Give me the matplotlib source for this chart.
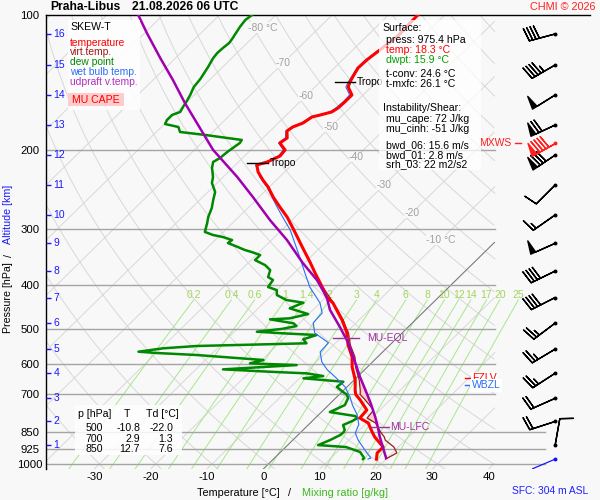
import numpy as np
import matplotlib
matplotlib.use("Agg")
import matplotlib.pyplot as plt
from matplotlib.patches import Rectangle
from matplotlib.ticker import NullLocator, FixedLocator

plt.rcParams['font.family'] = ['Liberation Sans', 'DejaVu Sans']

# ---------------- data ----------------
temp_p = [100, 104.2, 111.9, 119.7, 125.9, 131.2, 136.7, 141.0, 144.7, 150.7, 156.2, 161.1, 164.4,
          167.0, 168.7, 174.0, 177.6, 181.3, 187.9, 192.8, 199.8, 206.1, 212.5, 215.8, 223.7, 233.1,
          241.6, 254.3, 267.7, 281.8, 298.1, 313.8, 330.4, 354.9, 375.5, 403.5, 424.7, 437.9, 477.9,
          500, 510.8, 543.3, 577.9, 608.1, 650.0, 684.3, 700, 720.2, 758.3, 790.1, 810.5, 850, 871.0,
          916.7, 945.0, 975.4]
temp_T = [-54.8, -54.7, -54.5, -55.2, -55.7, -55.8, -55.2, -54.7, -54.1, -52.0, -52.0, -52.1, -52.5,
          -54.0, -55.1, -55.6, -56.7, -57.0, -55.7, -56.1, -53.9, -53.7, -54.9, -56.2, -54.7, -52.4,
          -50.2, -47.5, -44.5, -41.4, -38.4, -35.7, -33.0, -29.2, -26.3, -22.5, -19.9, -17.7, -13.0,
          -10.8, -9.8, -7.4, -4.5, -2.7, 0.2, 2.0, 2.9, 4.7, 7.7, 7.9, 10.3, 12.7, 14.0,
          17.3, 17.3, 18.3]

virt_p = [403.5, 437.9, 477.9, 500, 510.8, 543.3, 577.9, 608.1, 650, 684.3, 700, 720.2, 758.3, 790.1,
          810.5, 850, 871, 884.6, 916.7, 945, 975.4]
virt_T = [-22.4, -17.6, -12.8, -10.6, -9.5, -7.0, -4.0, -2.1, 0.9, 2.9, 3.7, 5.6, 8.9, 9.2,
          11.6, 14.2, 15.7, 16.4, 19.2, 20.8, 19.9]

dewp_p = [100, 102.6, 106.3, 109.7, 113.1, 115.4, 118.4, 121.5, 124.7, 130.5, 134.6, 138.8, 144.7,
          150.7, 155.5, 160.3, 164.4, 167.0, 171.3, 174.9, 177.6, 182.2, 185.0, 189.8, 192.8, 201.9,
          208.2, 212.5, 219.2, 229.5, 236.7, 247.9, 258.2, 269.1, 281.8, 290.6, 304.2, 309.0, 312.2,
          317.1, 322.0, 328.7, 333.8, 337.3, 342.5, 351.4, 360.6, 369.9, 383.4, 389.3, 403.5, 409.9,
          420.4, 431.3, 437.3, 450.1, 463.5, 473.8, 476.3, 486.1, 492.9, 500, 507.4, 511.7, 516.1,
          527.6, 538.5, 546.0, 552.5, 562.2, 566.0, 571.8, 586.7, 596.8, 602.1, 615.5, 623.1, 628.3,
          636.9, 644.5, 655.8, 673.7, 691.2, 700, 712.9, 739.1, 766.2, 781.9, 790.1, 802.3, 818.9,
          840.2, 850, 861.9, 884.6, 907.6, 916.7, 940.3, 969.7, 975.4]
dewp_T = [-84.2, -84.5, -84.2, -83.8, -83.4, -83.2, -83.4, -83.5, -83.3, -82.6, -82.2, -81.8, -81.5,
          -80.7, -80.2, -79.8, -79.4, -80.3, -80.3, -79.9, -77.0, -75.8, -70.8, -63.4, -63.2, -63.8,
          -64.0, -64.5, -63.6, -61.8, -60.9, -58.7, -57.6, -56.4, -55.4, -54.5, -53.3, -51.3, -49.2,
          -47.0, -47.2, -44.7, -42.9, -41.3, -39.3, -39.3, -36.6, -34.8, -33.9, -32.5, -32.1, -30.0,
          -29.1, -26.5, -23.0, -24.4, -20.1, -22.6, -25.9, -21.0, -20.0, -22.0, -26.0, -21.0, -14.8,
          -16.4, -15.1, -34.1, -39.6, -43.4, -39.9, -32.5, -19.7, -21.5, -12.9, -25.2, -16.4, -9.6,
          -6.2, -9.3, -1.6, -1.8, 0.2, 1.3, 2.2, 2.9, 1.5, 6.7, 7.5, 7.1, 6.2,
          7.4, 7.6, 7.5, 6.6, 5.4, 10.7, 14.1, 15.9, 15.9]

wetb_p = [100, 104.2, 111.9, 119.7, 125.9, 131.2, 136.7, 141.0, 144.7, 150.7, 156.2, 161.1, 164.4,
          167.0, 168.7, 174.0, 177.6, 181.3, 187.9, 192.8, 199.8, 206.1, 212.5, 215.8, 229.5, 241.6,
          254.3, 267.7, 283.3, 301.2, 322.2, 346.1, 375.5, 403.5, 437.9, 461, 485, 510.8, 537, 563,
          592.6, 617, 640, 673, 710, 740, 778, 817, 853, 884.6, 931, 969.7, 975.4]
wetb_T = [-54.6, -54.9, -54.8, -55.4, -55.9, -56.0, -55.4, -55.0, -54.5, -52.4, -52.3, -52.5, -52.8,
          -54.2, -55.3, -55.9, -56.9, -57.2, -56.0, -56.3, -54.2, -54.0, -55.1, -56.4, -53.5, -50.4,
          -47.7, -45.0, -41.9, -38.5, -35.3, -31.9, -28.1, -24.7, -20.0, -17.8, -17.6, -15.5, -11.3, -11.1,
          -9.0, -6.6, -3.9, -0.4, 2.4, 4.3, 6.9, 8.9, 9.8, 11.6, 14.6, 17.1, 16.8]

parcel_p = [100, 109.7, 124.7, 139.5, 157, 178.5, 199.7, 229.5, 254.3, 286.2, 316.9, 356.7, 389.3,
            424.7, 453.5, 495.5, 537, 592.6, 640, 684, 730, 785, 825, 871, 969.7]
parcel_T = [-104.4, -99.6, -92.7, -86.5, -80.2, -73.0, -66.7, -57.5, -51.1, -43.9, -37.3, -30.3, -24.7,
            -19.9, -17.0, -12.1, -7.8, -3.1, 0.5, 3.8, 7.0, 10.4, 12.6, 14.9, 19.8]

pressure_ticks = [100, 200, 300, 400, 500, 600, 700, 850, 925, 1000]
isobars_short = [200, 300, 400, 500, 600, 700]
isobars_long = [850, 925, 1000]
temp_ticks = [-30, -20, -10, 0, 10, 20, 30, 40]
mix_ratios = [0.2, 0.4, 0.6, 1, 1.4, 2, 3, 4, 6, 8, 10, 12, 14, 17, 20, 25]
iso_label_T = [-80, -70, -60, -50, -40, -30, -20, -10]
iso_label_p = [106.7, 127.7, 151.3, 177.3, 207, 239, 276, 317]

km_levels = list(range(1, 17))
km_p = [907, 804, 714, 627.8, 554.7, 485.5, 425.8, 371.8, 322.5, 278.8, 239.1, 205.1, 175.8,
        150.7, 129.2, 110.2]
wind_dir = [10, 252, 246, 237, 239, 233, 243, 244, 246, 235, 225, 236, 245, 238, 240, 255]
wind_spd = [10, 20, 20, 25, 25, 25, 40, 40, 50, 15, 10, 80, 70, 50, 45, 40]
mxws_p, mxws_dir, mxws_spd = 192.8, 241, 90
sfc_p, sfc_dir, sfc_spd = 975.4, 247, 3

tropo_p = [141.0, 214.0]
eql_p = 524.6
lfc_p = 829.0
fzlv_p = 642.0
wbzl_p = 668.0

# ---------------- geometry ----------------
SKEW = 81.3
P_BOT = 1026.0
X_LEFT, X_RIGHT = -38.62, 57.98
X_DIAG = 41.1
X_LOW = 50.0
BG = '#f8f8f8'
W, H = 600, 500


def skew(T, p):
    return np.asarray(T, float) + SKEW * np.log10(P_BOT / np.asarray(p, float))


fig = plt.figure(figsize=(6, 5), dpi=100, facecolor=BG)
ax = fig.add_axes([45.7 / W, 1 - 469 / H, (590 - 45.7) / W, (469 - 15) / H])
ax.set_facecolor(BG)
ax.set_yscale('log')
ax.set_ylim(P_BOT, 100)
ax.set_xlim(X_LEFT, X_RIGHT)
ax.yaxis.set_major_locator(FixedLocator(pressure_ticks))
ax.yaxis.set_minor_locator(NullLocator())
ax.set_yticklabels([str(v) for v in pressure_ticks])
ax.set_xticks(temp_ticks)
ax.set_xticklabels([str(v) for v in temp_ticks])
ax.tick_params(axis='both', length=0, labelsize=8.2)
ax.tick_params(axis='x', pad=2.5)
ax.tick_params(axis='y', pad=11.3)
for lab in ax.get_yticklabels():
    lab.set_horizontalalignment('center')
for s in ['bottom', 'right']:
    ax.spines[s].set_visible(False)
ax.spines['left'].set_linewidth(1.0)
ax.spines['top'].set_linewidth(1.0)

# ---------------- background grid ----------------
pp = np.geomspace(100, P_BOT, 500)


def clipped(X, xmax=X_DIAG):
    X = np.array(X, float)
    X[X > xmax] = np.nan
    return X


for T in range(-130, 41, 10):
    if T == 0:
        ax.plot(clipped(skew(T, pp)), pp, color='#7a7a7a', lw=0.8, zorder=1.3)
    else:
        ax.plot(clipped(skew(T, pp)), pp, color='#d8d8d8', lw=0.7, zorder=1)
for th in np.arange(233.15, 520, 10):
    Tc = th * (pp / 1000.0) ** 0.286 - 273.15
    ax.plot(clipped(skew(Tc, pp)), pp, color='#d8d8d8', lw=0.7, zorder=1)

for p in isobars_short:
    ax.plot([X_LEFT, X_DIAG], [p, p], color='#a4a4a4', lw=1.0, zorder=1.5)
for p in isobars_long:
    ax.plot([X_LEFT, X_LOW], [p, p], color='#a4a4a4', lw=1.0, zorder=1.5)

pm = np.geomspace(431, P_BOT, 120)
for w in mix_ratios:
    e = w * pm / (622.0 + w)
    L = np.log(e / 6.112)
    Td = 243.5 * L / (17.67 - L)
    Xm = skew(Td, pm)
    ax.plot(Xm, pm, color='#a6e88c', lw=0.7, zorder=1.2)
    ax.text(Xm[0], 420, f'{w:g}', color='#a2d45c', fontsize=7.5, ha='center', va='center', zorder=2)

for T, p in zip(iso_label_T, iso_label_p):
    s = f'{T} °C' if T in (-80, -10) else f'{T}'
    ax.text(skew(T, p), p, s, color='#a0a0a0', fontsize=7.5, ha='center', va='center',
            bbox=dict(facecolor=BG, edgecolor='none', pad=0.2), zorder=1.8)

# ---------------- CAPE ----------------
pg = np.geomspace(eql_p, lfc_p, 300)
lp = np.log(pg)
tv = np.interp(lp, np.log(virt_p), virt_T)
tpc = np.interp(lp, np.log(parcel_p), parcel_T)
ax.fill_betweenx(pg, skew(tv, pg), skew(tpc, pg), where=tpc > tv, interpolate=True,
                 color='#ffcccc', lw=0, zorder=4)

# ---------------- profiles ----------------
ax.plot(skew(dewp_T, dewp_p), dewp_p, color='#008800', lw=1.8, zorder=5)
ax.plot(skew(wetb_T, wetb_p), wetb_p, color='#2a6ef5', lw=0.8, zorder=5.2)
ax.plot(skew(virt_T, virt_p), virt_p, color='#a01818', lw=0.9, zorder=5.5)
ax.plot(skew(temp_T, temp_p), temp_p, color='#ff0000', lw=2.2, zorder=6)
ax.plot(skew(parcel_T, parcel_p), parcel_p, color='#a000b0', lw=1.8, zorder=7)

# tropopause marks
for p in tropo_p:
    Tt = np.interp(np.log(p), np.log(temp_p), temp_T)
    Xt = float(skew(Tt, p))
    ax.plot([Xt - 2.7, Xt + 0.9], [p, p], color='k', lw=1.0, zorder=8)
    ax.text(Xt + 1.3, p, 'Tropo', fontsize=7.5, va='center', ha='left', zorder=8)

# level labels
PURP = '#a030a0'
Xe = float(skew(np.interp(np.log(eql_p), np.log(parcel_p), parcel_T), eql_p))
ax.plot([Xe - 2.2, Xe + 2.3], [eql_p, eql_p], color=PURP, lw=1.0, zorder=8)
ax.text(Xe + 3.8, eql_p, 'MU-EQL', color=PURP, fontsize=7.5, va='center', zorder=8)
Xl = float(skew(np.interp(np.log(lfc_p), np.log(parcel_p), parcel_T), lfc_p))
ax.plot([Xl - 1.3, Xl + 1.9], [lfc_p, lfc_p], color=PURP, lw=1.0, zorder=8)
ax.text(Xl + 2.2, lfc_p, 'MU-LFC', color=PURP, fontsize=7.5, va='center', zorder=8)

ax.plot([35.8, 36.9], [fzlv_p, fzlv_p], color='#ff0000', lw=1.0, zorder=8)
ax.text(37.0, fzlv_p, 'FZLV', color='#ff0000', fontsize=7.5, va='center', zorder=8,
        bbox=dict(facecolor='white', edgecolor='none', pad=0.5))
ax.plot([35.8, 36.9], [wbzl_p, wbzl_p], color='#2a6ef5', lw=1.0, zorder=8)
ax.text(37.0, wbzl_p, 'WBZL', color='#2a6ef5', fontsize=7.5, va='center', zorder=8.5,
        bbox=dict(facecolor='white', edgecolor='none', pad=1.2))

ax.text(44.1, mxws_p, 'MXWS', color='#ff2020', fontsize=7.5, va='center', ha='right', zorder=8)
ax.plot([44.6, 45.7], [mxws_p, mxws_p], color='#ff2020', lw=1.0, zorder=8)

# altitude ticks
BLUE = '#1a1aff'
ytr = ax.get_yaxis_transform()
ax.hlines(km_p, 0, 5 / 544.3, transform=ytr, color=BLUE, lw=1.0, zorder=9)
for k, p in zip(km_levels, km_p):
    ax.text(8 / 544.3, p, str(k), transform=ytr, color=BLUE, fontsize=7.5, va='center', ha='left',
            zorder=9)

# wind barbs
BX = 51.8
bsizes = dict(spacing=0.13, height=0.5, width=0.2)
d = np.radians(wind_dir)
spd = np.array(wind_spd, float)
ax.barbs(np.full(len(km_p), BX), km_p, -spd * np.sin(d), -spd * np.cos(d), length=6.2,
         sizes=bsizes, lw=1.0, color='k', zorder=8)
ax.scatter(np.full(len(km_p), BX), km_p, s=8, color='k', zorder=9, lw=0)
dm = np.radians(mxws_dir)
ax.barbs([BX], [mxws_p], [-mxws_spd * np.sin(dm)], [-mxws_spd * np.cos(dm)], length=6.2,
         sizes=bsizes, lw=1.0, color='#ff2020', zorder=8)
ax.scatter([BX], [mxws_p], s=8, color='#ff2020', zorder=9, lw=0)
dsf = np.radians(sfc_dir)
ax.quiver([BX], [sfc_p], [np.sin(dsf)], [np.cos(dsf)], angles='uv', scale_units='dots',
          scale=1 / 25.0, units='dots', width=1.2, headwidth=0, headlength=0,
          headaxislength=0, color='#1010ff', pivot='tail', zorder=8)
ax.scatter([BX], [sfc_p], s=8, color='#1010ff', zorder=9, lw=0)


# ---------------- figure texts ----------------
def ftext(x, y, s, **kw):
    kw.setdefault('va', 'center')
    fig.text(x / W, 1 - y / H, s, **kw)


def fbox(x0, y0, x1, y1, color, alpha=1.0):
    fig.add_artist(Rectangle((x0 / W, 1 - y1 / H), (x1 - x0) / W, (y1 - y0) / H,
                             transform=fig.transFigure, facecolor=color, edgecolor='none',
                             alpha=alpha, zorder=2))


ftext(50.7, 7.5, 'Praha-Libus', fontsize=8.7, weight='bold')
ftext(131.7, 7.5, '21.08.2026 06 UTC', fontsize=8.7, weight='bold')
ftext(530, 7, 'CHMI © 2026', fontsize=7.8, color='#ff2020')

# legend
fbox(68, 20, 140, 110, 'white', 0.85)
ftext(70, 26.7, 'SKEW-T', fontsize=7.6)
for y, s, c in [(42.7, 'temperature', '#ff0000'), (52.3, 'virt.temp.', '#a01818'),
                (61.7, 'dew point', '#008800'), (71.7, 'wet bulb temp.', '#2a6ef5'),
                (81.7, 'udpraft v.temp.', '#b030c0')]:
    ftext(70, y, s, fontsize=7.4, color=c)
fbox(68, 93, 124, 106, '#ffcccc')
ftext(96, 100, 'MU CAPE', fontsize=7.6, color='#ff0000', ha='center')

# info box
fbox(379, 20, 481, 170, 'white', 0.75)
info = [(28, 'Surface:', 'k', 382.7), (40, 'press: 975.4 hPa', 'k', 386),
        (50, 'temp: 18.3 °C', '#ff0000', 386), (60, 'dwpt: 15.9 °C', '#00a000', 386),
        (74, 't-conv: 24.6 °C', 'k', 386), (84, 't-mxfc: 26.1 °C', 'k', 386),
        (108, 'Instability/Shear:', 'k', 382.7), (119, 'mu_cape: 72 J/kg', 'k', 386),
        (129, 'mu_cinh: -51 J/kg', 'k', 386), (145, 'bwd_06: 15.6 m/s', 'k', 386),
        (154.7, 'bwd_01: 2.8 m/s', 'k', 386), (164, 'srh_03: 22 m2/s2', 'k', 386)]
for y, s, c, x in info:
    ftext(x, y, s, fontsize=7.6, color=c)

# table
fbox(75, 405, 182, 455, 'white', 0.85)
ftext(78, 414, 'p [hPa]', fontsize=7.6)
ftext(127, 414, 'T', fontsize=7.6, ha='center')
ftext(146, 414, 'Td [°C]', fontsize=7.6)
for y, (a, b, c) in zip([428, 438.5, 448.5], [('500', '-10.8', '-22.0'), ('700', '2.9', '1.3'),
                                              ('850', '12.7', '7.6')]):
    ftext(103, y, a, fontsize=7.6, ha='right')
    ftext(140, y, b, fontsize=7.6, ha='right')
    ftext(173, y, c, fontsize=7.6, ha='right')

# axis labels
ftext(8.5, 297.5, 'Pressure [hPa]', fontsize=7.7, rotation=90, ha='center')
ftext(8.5, 255.5, '/', fontsize=7.7, rotation=90, ha='center')
ftext(8.5, 214, 'Altitude [km]', fontsize=7.7, rotation=90, ha='center', color=BLUE)
ftext(238.5, 493, 'Temperature [°C]', fontsize=7.8, ha='center')
ftext(289, 493, '/', fontsize=7.8, ha='center')
ftext(344.5, 493, 'Mixing ratio [g/kg]', fontsize=7.8, ha='center', color='#3cb81e')
ftext(550, 491.5, 'SFC: 304 m ASL', fontsize=7.4, ha='center', color='#2020ff')

fig.savefig('out.png', dpi=100, facecolor=BG)
